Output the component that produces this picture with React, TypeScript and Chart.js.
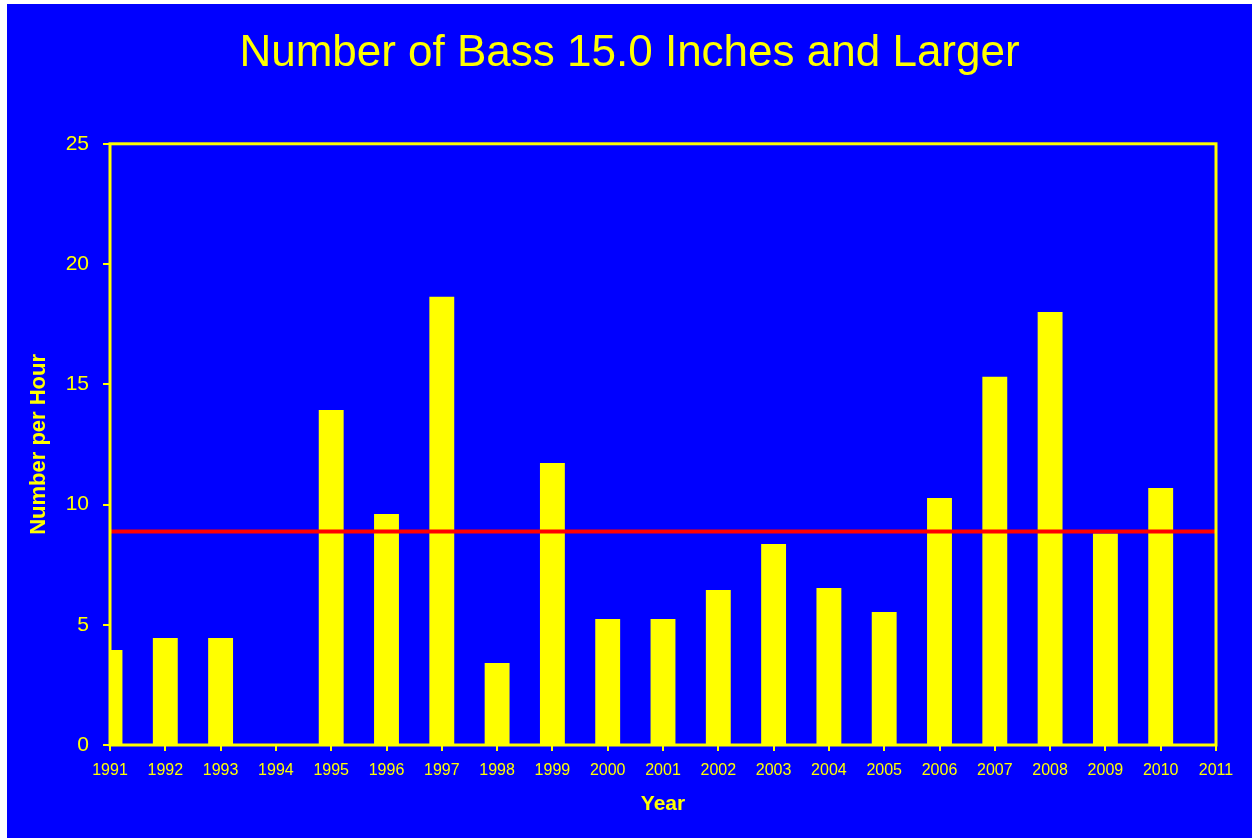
import React, { useEffect, useRef } from "react";
import { Chart, registerables } from "chart.js";

Chart.register(...registerables);

const years = [1991, 1992, 1993, 1994, 1995, 1996, 1997, 1998, 1999, 2000, 2001, 2002, 2003, 2004, 2005, 2006, 2007, 2008, 2009, 2010];
const bassPerHour = [3.95, 4.45, 4.45, 0, 13.93, 9.61, 18.64, 3.41, 11.73, 5.24, 5.24, 6.45, 8.36, 6.53, 5.53, 10.27, 15.31, 18.01, 8.8, 10.69];
const averageLine = 8.88;
const xRange = [1991, 2011];
const yTicks = [0, 5, 10, 15, 20, 25];

const titleText = "Number of Bass 15.0 Inches and Larger";
const xTitle = "Year";
const yTitle = "Number per Hour";

const BLUE = "#0000ff";
const YELLOW = "#ffff00";
const RED = "#ff0000";
const FONT = "'Liberation Sans', Arial, sans-serif";

const framePlugin = {
  id: "frame",
  afterDatasetsDraw(chart: any) {
    const { ctx, chartArea } = chart;
    ctx.save();
    ctx.strokeStyle = YELLOW;
    ctx.lineWidth = 3;
    ctx.strokeRect(chartArea.left, chartArea.top, chartArea.right - chartArea.left, chartArea.bottom - chartArea.top);
    ctx.restore();
  },
};

export default function App() {
  const ref = useRef<HTMLCanvasElement>(null);

  useEffect(() => {
    if (!ref.current) return;
    const chart = new Chart(ref.current, {
      type: "bar",
      data: {
        datasets: [
          {
            type: "line",
            data: [
              { x: xRange[0], y: averageLine },
              { x: xRange[1], y: averageLine },
            ],
            borderColor: RED,
            borderWidth: 4,
            pointRadius: 0,
            order: 0,
          } as any,
          {
            type: "bar",
            data: years.map((yr, i) => ({ x: yr, y: bassPerHour[i] })),
            backgroundColor: YELLOW,
            borderWidth: 0,
            barPercentage: 0.45,
            categoryPercentage: 1,
            order: 1,
          } as any,
        ],
      },
      options: {
        responsive: false,
        animation: false,
        layout: { padding: 0 },
        plugins: {
          legend: { display: false },
          tooltip: { enabled: false },
          title: {
            display: true,
            text: titleText,
            color: YELLOW,
            font: { family: FONT, size: 44, weight: "normal", lineHeight: 1.2 },
            padding: { top: 23, bottom: 64 },
          },
        },
        scales: {
          x: {
            type: "linear",
            min: xRange[0],
            max: xRange[1],
            offset: false,
            grid: { display: true, drawOnChartArea: false, drawTicks: true, tickLength: 6, color: YELLOW, lineWidth: 2, offset: false },
            border: { display: false },
            ticks: {
              stepSize: 1,
              color: YELLOW,
              font: { family: FONT, size: 16 },
              padding: 10,
              maxRotation: 0,
              autoSkip: false,
              callback: (v: any) => String(v),
            },
            title: {
              display: true,
              text: xTitle,
              color: YELLOW,
              font: { family: FONT, size: 21, weight: "bold", lineHeight: 1.2 },
              padding: { top: 0, bottom: 21 },
            },
            afterFit: (s: any) => { s.height = 93; },
          },
          y: {
            type: "linear",
            min: 0,
            max: 25,
            grid: { display: true, drawOnChartArea: false, drawTicks: true, tickLength: 7, color: YELLOW, lineWidth: 2 },
            border: { display: false },
            afterBuildTicks: (s: any) => { s.ticks = yTicks.map((v) => ({ value: v })); },
            ticks: {
              color: YELLOW,
              font: { family: FONT, size: 21 },
              padding: 14,
            },
            title: {
              display: true,
              text: yTitle,
              color: YELLOW,
              font: { family: FONT, size: 22, weight: "bold", lineHeight: 1.2 },
              padding: { top: 19, bottom: 0 },
            },
            afterFit: (s: any) => { s.width = 103; },
          },
          y2: {
            type: "linear",
            position: "right",
            min: 0,
            max: 1,
            display: true,
            grid: { display: false },
            border: { display: false },
            ticks: { display: false },
            afterFit: (s: any) => { s.width = 36; },
          },
        },
      } as any,
      plugins: [framePlugin],
    });
    return () => chart.destroy();
  }, []);

  return (
    <div style={{ position: "absolute", left: 7, top: 4, width: 1245, height: 834, background: BLUE }}>
      <canvas ref={ref} width={1245} height={834} style={{ display: "block" }} />
    </div>
  );
}
